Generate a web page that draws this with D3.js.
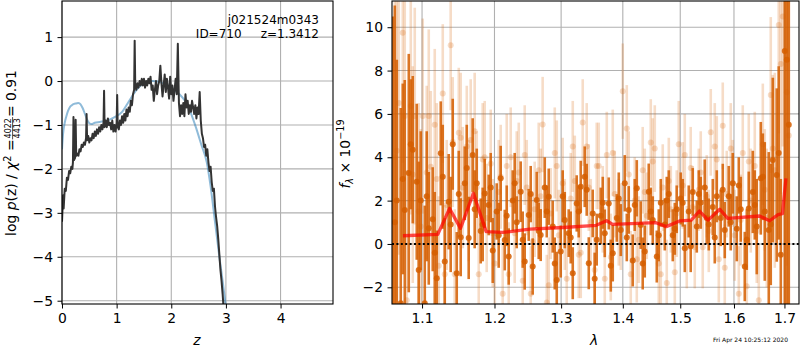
<!DOCTYPE html>
<html>
<head>
<meta charset="utf-8">
<script src="https://cdn.jsdelivr.net/npm/d3@7"></script>
<style>
  body { margin: 0; background: #fff; }
  svg { display: block; }
  text { font-family: "DejaVu Sans", sans-serif; }
</style>
</head>
<body>
<script>
// ---- left panel: log p(z) ----
var zBlack = [0.00,0.02,0.03,0.05,0.07,0.09,0.11,0.13,0.15,0.17,0.19,0.20,0.21,0.22,0.24,0.25,0.26,0.28,0.30,0.32,0.34,0.36,0.38,0.40,0.42,0.44,0.45,0.46,0.48,0.50,0.52,0.54,0.56,0.58,0.60,0.62,0.64,0.66,0.68,0.70,0.72,0.74,0.76,0.77,0.78,0.80,0.82,0.84,0.86,0.88,0.90,0.92,0.94,0.96,0.98,1.00,1.01,1.02,1.04,1.06,1.08,1.10,1.12,1.14,1.16,1.18,1.20,1.22,1.24,1.26,1.28,1.30,1.32,1.33,1.34,1.36,1.38,1.40,1.42,1.44,1.46,1.48,1.50,1.52,1.54,1.56,1.58,1.60,1.62,1.64,1.66,1.68,1.70,1.72,1.74,1.76,1.78,1.80,1.82,1.84,1.86,1.88,1.90,1.92,1.94,1.96,1.98,2.00,2.02,2.04,2.06,2.08,2.10,2.12,2.14,2.16,2.18,2.20,2.22,2.24,2.26,2.28,2.30,2.32,2.34,2.36,2.38,2.40,2.42,2.44,2.46,2.48,2.50,2.52,2.54,2.56,2.58,2.60,2.62,2.64,2.66,2.68,2.70,2.72,2.74,2.76,2.78,2.80,2.82,2.84,2.86,2.88,2.90,2.92,2.94,2.96];
var logpBlack = [-3.2,-2.6,-2.9,-2.45,-2.5,-2.2,-2.25,-2.05,-2.1,-1.95,-2.0,-1.85,-0.82,-1.8,-1.75,-0.88,-1.7,-1.65,-1.7,-1.55,-1.6,-1.45,-1.5,-1.4,-1.45,-1.3,-0.75,-1.35,-1.25,-1.4,-1.3,-1.35,-1.2,-1.3,-1.15,-1.25,-1.1,-1.2,-1.05,-1.15,-1.0,-1.1,-0.95,-0.22,-1.05,-0.9,-1.05,-0.85,-1.0,-0.95,-1.1,-0.9,-1.15,-1.0,-1.15,-0.95,-0.32,-1.05,-1.1,-0.9,-1.0,-0.8,-0.95,-0.75,-0.9,-0.65,-0.8,-0.6,-0.7,-0.45,-0.55,-0.3,-0.2,0.92,-0.05,-0.2,-0.05,-0.15,0.0,-0.1,0.05,-0.1,0.05,-0.15,0.0,-0.1,0.05,-0.05,0.1,-0.2,-0.1,-0.45,-0.2,0.0,-0.3,-0.1,0.0,0.35,-0.05,-0.35,-0.1,0.15,-0.25,0.05,-0.15,-0.4,0.1,-0.3,-0.1,-0.45,-0.2,0.05,-0.3,0.85,-0.5,-0.8,-0.55,-0.75,-0.5,-0.8,-0.3,-0.6,-0.45,-0.75,-0.55,-0.7,-0.45,-0.6,-0.75,-0.55,-0.85,-0.6,-0.75,-0.25,-0.9,-1.2,-1.3,-1.5,-1.45,-1.7,-1.55,-1.85,-2.05,-1.95,-2.3,-2.5,-2.45,-2.85,-3.1,-3.3,-3.6,-3.95,-4.3,-4.55,-4.85,-5.2];
var zBlue = [0.00,0.02,0.05,0.08,0.11,0.14,0.18,0.22,0.26,0.30,0.34,0.38,0.42,0.46,0.50,0.54,0.60,0.69,0.82,0.98,1.10,1.22,1.34,1.44,1.55,1.65,1.75,1.85,1.95,2.05,2.15,2.25,2.35,2.45,2.55,2.65,2.72,2.80,2.88,2.95,3.00];
var logpBlue = [-1.55,-1.2,-0.95,-0.8,-0.68,-0.6,-0.55,-0.52,-0.51,-0.5,-0.53,-0.62,-0.75,-0.88,-0.96,-0.98,-0.95,-0.93,-0.9,-0.81,-0.7,-0.47,-0.24,-0.1,-0.03,0.0,-0.01,-0.05,-0.11,-0.2,-0.3,-0.45,-0.7,-1.05,-1.45,-1.85,-2.4,-3.2,-4.0,-4.65,-5.15];
var zTicks = [0, 1, 2, 3, 4];
var pzTicks = [1, 0, -1, -2, -3, -4, -5];

// ---- right panel: spectrum (dark = strong points, light = faint points) ----
var darkWave = [1.0620,1.0671,1.0722,1.0774,1.0826,1.0878,1.0930,1.0983,1.1036,1.1089,1.1142,1.1196,1.1250,1.1304,1.1358,1.1413,1.1468,1.1523,1.1579,1.1634,1.1690,1.1747,1.1803,1.1860,1.1917,1.1975,1.2032,1.2090,1.2149,1.2207,1.2266,1.2325,1.2384,1.2444,1.2504,1.2564,1.2625,1.2685,1.2747,1.2808,1.2870,1.2932,1.2994,1.3057,1.3119,1.3183,1.3246,1.3310,1.3374,1.3439,1.3503,1.3568,1.3634,1.3700,1.3766,1.3832,1.3899,1.3966,1.4033,1.4100,1.4168,1.4237,1.4305,1.4374,1.4443,1.4513,1.4583,1.4653,1.4724,1.4795,1.4866,1.4937,1.5009,1.5082,1.5154,1.5227,1.5301,1.5374,1.5448,1.5523,1.5598,1.5673,1.5748,1.5824,1.5900,1.5977,1.6054,1.6131,1.6209,1.6287,1.6366,1.6444,1.6524,1.6603,1.6683,1.6764,1.6844,1.6926,1.7007,1.7089];
var darkFlux = [-3.5,2.0,-2.73,1.57,3.27,4.35,2.87,2.0,-2.73,0.72,1.14,-1.58,4.18,-0.81,1.95,4.6,-1.35,0.31,2.8,0.28,4.1,2.8,0.6,2.33,1.8,-0.3,1.5,3.03,0.18,-0.58,2.0,1.0,2.41,-0.81,1.34,-1.04,2.03,0.41,2.6,2.18,0.8,-1.66,-0.35,1.1,0.5,-1.35,1.87,2.64,3.1,-0.89,1.41,0.2,1.3,0.49,1.87,-0.43,1.2,0.64,2.8,1.57,-0.76,2.57,0.87,-0.35,2.41,1.1,-0.58,1.9,0.9,2.3,0.4,1.6,2.1,-0.2,1.5,2.4,0.8,1.9,2.6,0.9,1.7,2.2,1.2,0.64,2.2,2.8,0.7,1.6,-1.04,1.64,2.4,0.8,3.03,1.5,0.64,3.87,3.18,-0.5,8.9,5.5];
var darkErr = [14,6.5,9,6,5.5,3.4,3.6,3.2,4.5,2.6,2.4,2.2,2.4,2.0,2.2,2.1,1.9,1.8,1.7,1.9,1.7,1.6,1.5,1.6,1.4,1.5,1.3,1.5,1.4,1.3,1.4,1.2,1.4,1.3,1.2,1.3,1.3,1.2,1.4,1.3,1.2,1.3,1.2,1.3,1.1,1.2,1.3,1.2,1.4,1.2,1.1,1.2,1.3,1.1,1.2,1.3,1.1,1.2,1.3,1.1,1.2,1.3,1.1,1.2,1.3,1.1,1.2,1.1,1.2,1.1,1.2,1.1,1.2,1.1,1.2,1.1,1.2,1.2,1.3,1.2,1.3,1.2,1.3,1.3,1.4,1.4,1.5,1.5,1.6,1.7,1.9,2.2,2.6,3.2,3.6,3.8,4.0,3.5,14,14];
var darkWave2 = [1.0646,1.0748,1.0852,1.0956,1.1062,1.1169,1.1277,1.1385,1.1496,1.1607,1.1718,1.1831,1.1946,1.2061,1.2178,1.2295,1.2414,1.2534,1.2655,1.2778,1.2901,1.3025,1.3151,1.3278,1.3406,1.3535,1.3667,1.3799,1.3932,1.4067,1.4202,1.4339,1.4478,1.4618,1.4759,1.4902,1.5045,1.5190,1.5338,1.5485,1.5635,1.5786,1.5938,1.6093,1.6248,1.6405,1.6564,1.6723,1.6884,1.7048];
var darkFlux2 = [1.0,3.0,4.6,-1.2,2.2,-0.4,3.1,0.9,2.3,3.5,1.6,0.9,2.6,0.4,1.3,2.8,0.2,2.3,0.6,1.5,-0.9,2.2,0.3,1.5,2.5,-1.6,1.9,-1.0,2.1,0.3,1.8,-0.9,1.5,0.4,2.0,0.7,1.9,-0.1,2.3,1.2,0.3,2.5,1.0,2.7,0.2,1.8,3.1,0.9,4.2,8.5];
var darkErr2 = [10,4.4,3.0,5,3,2.8,2.4,2.2,2.0,2.0,1.8,1.7,1.6,1.5,1.4,1.4,1.3,1.3,1.3,1.2,1.2,1.2,1.2,1.2,1.2,1.2,1.2,1.2,1.2,1.1,1.2,1.2,1.1,1.2,1.1,1.2,1.1,1.2,1.1,1.2,1.2,1.2,1.3,1.3,1.4,1.6,2.0,2.8,4.0,14];
var lightWave = [1.0646,1.0697,1.0748,1.0800,1.0852,1.0904,1.0956,1.1009,1.1062,1.1116,1.1169,1.1223,1.1277,1.1331,1.1385,1.1440,1.1496,1.1551,1.1607,1.1662,1.1718,1.1775,1.1831,1.1888,1.1946,1.2004,1.2061,1.2119,1.2178,1.2236,1.2295,1.2355,1.2414,1.2474,1.2534,1.2594,1.2655,1.2715,1.2778,1.2839,1.2901,1.2963,1.3025,1.3088,1.3151,1.3215,1.3278,1.3342,1.3406,1.3471,1.3535,1.3601,1.3667,1.3733,1.3799,1.3865,1.3932,1.3999,1.4067,1.4134,1.4202,1.4271,1.4339,1.4409,1.4478,1.4548,1.4618,1.4688,1.4759,1.4831,1.4902,1.4973,1.5045,1.5118,1.5190,1.5264,1.5338,1.5411,1.5485,1.5560,1.5635,1.5711,1.5786,1.5862,1.5938,1.6015,1.6093,1.6170,1.6248,1.6326,1.6405,1.6484,1.6564,1.6643,1.6723,1.6804,1.6884,1.6967,1.7048];
var lightFlux = [4.0,6.5,9.75,-2.6,6.36,5.9,1.5,5.9,3.3,3.56,5.5,-1.0,6.94,1.8,9.17,-1.4,5.13,2.6,4.5,4.8,5.2,-1.4,3.9,1.2,3.7,-0.9,2.4,-2.3,3.6,4.0,0.5,3.3,-1.7,2.6,-2.3,1.6,3.4,5.51,-2.7,1.4,4.2,0.4,2.8,-1.6,2.1,2.9,-0.5,5.6,4.5,1.0,-1.2,3.6,1.6,4.1,-0.6,2.3,1.0,7.05,5.33,-1.4,2.0,0.2,3.4,1.3,4.68,4.4,-0.9,2.6,-1.8,1.6,-1.3,4.6,2.7,-0.15,3.5,-0.15,2.5,-0.15,2.2,5.15,4.5,-0.7,5.45,2.3,4.4,0.4,-2.3,4.2,-1.95,2.0,3.6,-2.6,4.6,1.2,6.87,3.4,10.1,10.5,7.0];
var lightErr = [8,7,6,6,5,5,5,4.5,4,3.5,3.5,3.2,3.2,3,3,3,3,2.8,2.8,2.8,2.7,2.6,2.6,2.5,2.5,2.4,2.4,2.4,2.4,2.3,2.3,2.3,2.2,2.2,2.2,2.2,2.2,2.2,2.2,2.1,2.1,2.1,2.1,2.1,2.1,2.1,2.0,2.0,2.0,2.0,2.0,2.0,2.0,2.0,2.0,2.0,2.0,2.2,2.0,2.0,2.0,2.0,2.0,2.0,2.0,2.0,2.0,2.0,2.0,2.0,2.0,2.0,2.0,1.9,1.9,1.9,1.9,1.9,1.9,2.0,2.0,2.0,2.0,2.0,2.1,2.1,2.2,2.2,2.3,2.4,2.5,2.6,2.8,3.2,3.6,4.5,5,6,8];
var lightWave2 = [1.0671,1.0774,1.0878,1.0983,1.1089,1.1196,1.1304,1.1413,1.1523,1.1634,1.1747,1.1860,1.1975,1.2090,1.2207,1.2325,1.2444,1.2564,1.2685,1.2808,1.2932,1.3057,1.3183,1.3310,1.3439,1.3568,1.3700,1.3832,1.3966,1.4100,1.4237,1.4374,1.4513,1.4653,1.4795,1.4937,1.5082,1.5227,1.5374,1.5523,1.5673,1.5824,1.5977,1.6131,1.6287,1.6444,1.6603,1.6764,1.6926,1.7089];
var lightFlux2 = [4.3,5.9,3.2,0.8,5.9,3.0,-1.4,4.7,4.9,2.0,2.6,4.0,0.5,3.1,-1.4,2.9,4.1,0.1,2.2,-1.9,3.6,0.9,4.5,-0.4,2.6,3.6,-1.6,4.2,0.8,3.2,-0.7,2.4,3.8,-1.4,2.9,1.4,4.1,1.7,3.3,0.6,3.9,-1.1,2.8,1.1,3.8,0.6,2.5,4.4,8.3,5.0];
var lightErr2 = [7,6,5,4.5,4,3.5,3.2,3,3,2.8,2.6,2.6,2.5,2.4,2.4,2.3,2.3,2.2,2.2,2.2,2.1,2.1,2.1,2.1,2.0,2.0,2.0,2.0,2.0,2.0,2.0,2.0,2.0,2.0,2.0,2.0,1.9,1.9,1.9,1.9,2.0,2.0,2.0,2.1,2.2,2.4,2.8,3.4,6,10];
var modelWave = [1.075,1.121,1.137,1.152,1.170,1.188,1.212,1.252,1.303,1.356,1.373,1.383,1.457,1.475,1.500,1.520,1.535,1.551,1.573,1.588,1.650,1.670,1.687,1.696,1.703];
var modelFlux = [0.38,0.44,1.64,0.72,2.34,0.57,0.53,0.68,0.76,0.86,1.07,0.9,0.98,0.8,1.07,1.1,1.52,1.1,1.6,1.18,1.29,1.07,1.35,1.4,3.03];
var lamTicks = [1.1, 1.2, 1.3, 1.4, 1.5, 1.6, 1.7];
var fluxTicks = [-2, 0, 2, 4, 6, 8, 10];

var W = 800, H = 350;
var FS = "13.9px";
var GRISM = "#d55e00";

var svg = d3.select("body").append("svg").attr("width", W).attr("height", H);
svg.append("rect").attr("width", W).attr("height", H).attr("fill", "#fff");

function styleAxis(g){
   g.attr("font-size", FS).attr("font-family", "DejaVu Sans");
   g.select(".domain").remove();
   g.selectAll(".tick line").attr("stroke", "#000").attr("stroke-width", 1);
   g.selectAll(".tick text").attr("fill", "#000");
}

// ================= LEFT PANEL =================
var L = {x: 62, y: 1, w: 271, h: 303};
var xz = d3.scaleLinear().domain([0, 4.96]).range([0, L.w]);
var yp = d3.scaleLinear().domain([-5.075, 1.822]).range([L.h, 0]);
var left = svg.append("g").attr("transform", "translate(" + L.x + "," + L.y + ")");

left.append("clipPath").attr("id", "clipL").append("rect").attr("width", L.w).attr("height", L.h);

//grid
left.selectAll("line.gx").data(zTicks).enter().append("line")
   .attr("x1", d => xz(d)).attr("x2", d => xz(d)).attr("y1", 0).attr("y2", L.h)
   .attr("stroke", "#b0b0b0").attr("stroke-width", 1.1);
left.selectAll("line.gy").data(pzTicks).enter().append("line")
   .attr("x1", 0).attr("x2", L.w).attr("y1", d => yp(d)).attr("y2", d => yp(d))
   .attr("stroke", "#b0b0b0").attr("stroke-width", 1.1);

var plotL = left.append("g").attr("clip-path", "url(#clipL)");
var lineZ = d3.line().x(d => xz(d[0])).y(d => yp(d[1]));
plotL.append("path")
   .attr("d", lineZ.curve(d3.curveMonotoneX)(zBlue.map((z, i) => [z, logpBlue[i]])))
   .attr("fill", "none").attr("stroke", "#1f77b4").attr("stroke-opacity", 0.5).attr("stroke-width", 2);
plotL.append("path")
   .attr("d", lineZ.curve(d3.curveLinear)(zBlack.map((z, i) => [z, logpBlack[i]])))
   .attr("fill", "none").attr("stroke", "#333").attr("stroke-width", 2).attr("stroke-linejoin", "round");

left.append("rect").attr("width", L.w).attr("height", L.h)
   .attr("fill", "none").attr("stroke", "#000").attr("stroke-width", 1.1);

left.append("g").attr("transform", "translate(0," + L.h + ")")
   .call(d3.axisBottom(xz).tickValues(zTicks).tickSize(4.5).tickPadding(4.5).tickFormat(d3.format("d")))
   .call(styleAxis);
left.append("g")
   .call(d3.axisLeft(yp).tickValues(pzTicks).tickSize(4.5).tickPadding(4.5).tickFormat(d3.format("d")))
   .call(styleAxis);

left.append("text").attr("x", 257).attr("y", 23).attr("text-anchor", "end")
   .attr("font-size", "12px").text("j021524m0343");
left.append("text").attr("x", 257).attr("y", 37.3).attr("text-anchor", "end")
   .attr("font-size", "12px").style("white-space", "pre").text("ID=710     z=1.3412");

// x label
svg.append("text").attr("x", 197).attr("y", 345).attr("text-anchor", "middle")
   .attr("font-size", FS).attr("font-style", "italic").text("z");

// y label (rotated, with fraction)
var yl = svg.append("g").attr("transform", "translate(16,153) rotate(-90)");
var t1 = yl.append("text").attr("font-size", FS);
t1.append("tspan").text("log ");
t1.append("tspan").attr("font-style", "italic").text("p");
t1.append("tspan").text("(z) / ");
t1.append("tspan").attr("font-style", "italic").text("χ");
t1.append("tspan").attr("font-size", "9.7px").attr("dy", -5).text("2");
t1.append("tspan").attr("dy", 5).text(" = ");
var num = yl.append("text").attr("font-size", "8px").attr("text-anchor", "middle").text("4022");
var den = yl.append("text").attr("font-size", "8px").attr("text-anchor", "middle").text("4413");
var t3 = yl.append("text").attr("font-size", FS).text(" = 0.91");
var w1 = t1.node().getComputedTextLength();
var wf = Math.max(num.node().getComputedTextLength(), den.node().getComputedTextLength()) + 2;
var w3 = t3.node().getComputedTextLength();
var x0 = -(w1 + wf + w3) / 2;
t1.attr("x", x0);
num.attr("x", x0 + w1 + wf / 2).attr("y", -5);
den.attr("x", x0 + w1 + wf / 2).attr("y", 4);
yl.append("line").attr("x1", x0 + w1).attr("x2", x0 + w1 + wf).attr("y1", -3.4).attr("y2", -3.4)
   .attr("stroke", "#000").attr("stroke-width", 0.7);
t3.attr("x", x0 + w1 + wf);

// ================= RIGHT PANEL =================
var R = {x: 392, y: 1, w: 407, h: 303};
var xl = d3.scaleLog().domain([1.061, 1.73]).range([0, R.w]);
var yf = d3.scaleLinear().domain([-2.77, 11.21]).range([R.h, 0]);
var right = svg.append("g").attr("transform", "translate(" + R.x + "," + R.y + ")");
right.append("clipPath").attr("id", "clipR").append("rect").attr("width", R.w).attr("height", R.h);

right.selectAll("line.gx").data(lamTicks).enter().append("line")
   .attr("x1", d => xl(d)).attr("x2", d => xl(d)).attr("y1", 0).attr("y2", R.h)
   .attr("stroke", "#b0b0b0").attr("stroke-width", 1.1);
right.selectAll("line.gy").data(fluxTicks).enter().append("line")
   .attr("x1", 0).attr("x2", R.w).attr("y1", d => yf(d)).attr("y2", d => yf(d))
   .attr("stroke", "#b0b0b0").attr("stroke-width", 1.1);

var plotR = right.append("g").attr("clip-path", "url(#clipR)");

function drawErrors(wave, flux, err, alpha){
   var data = wave.map((w, i) => ({w: w, f: flux[i], e: err[i]}));
   var g = plotR.append("g");
   g.selectAll("line").data(data).enter().append("line")
      .attr("x1", d => xl(d.w)).attr("x2", d => xl(d.w))
      .attr("y1", d => yf(d.f - d.e)).attr("y2", d => yf(d.f + d.e))
      .attr("stroke", GRISM).attr("stroke-opacity", alpha).attr("stroke-width", 2.6);
   g.selectAll("circle").data(data).enter().append("circle")
      .attr("cx", d => xl(d.w)).attr("cy", d => yf(d.f)).attr("r", 3)
      .attr("fill", GRISM).attr("fill-opacity", alpha);
}
drawErrors(lightWave, lightFlux, lightErr, 0.22);
drawErrors(lightWave2, lightFlux2, lightErr2, 0.22);
drawErrors(darkWave, darkFlux, darkErr, 0.85);
drawErrors(darkWave2, darkFlux2, darkErr2, 0.85);

plotR.append("path")
   .attr("d", d3.line().x(d => xl(d[0])).y(d => yf(d[1]))(modelWave.map((w, i) => [w, modelFlux[i]])))
   .attr("fill", "none").attr("stroke", "red").attr("stroke-opacity", 0.7)
   .attr("stroke-width", 3.3).attr("stroke-linejoin", "round");

plotR.append("line").attr("x1", 0).attr("x2", R.w).attr("y1", yf(0)).attr("y2", yf(0))
   .attr("stroke", "#000").attr("stroke-width", 2).attr("stroke-dasharray", "2,2.4");

right.append("rect").attr("width", R.w).attr("height", R.h)
   .attr("fill", "none").attr("stroke", "#000").attr("stroke-width", 1.1);

right.append("g").attr("transform", "translate(0," + R.h + ")")
   .call(d3.axisBottom(xl).tickValues(lamTicks).tickSize(4.5).tickPadding(4.5).tickFormat(d3.format(".1f")))
   .call(styleAxis);
right.append("g")
   .call(d3.axisLeft(yf).tickValues(fluxTicks).tickSize(4.5).tickPadding(4.5).tickFormat(d3.format("d")))
   .call(styleAxis);

svg.append("text").attr("x", 594).attr("y", 345).attr("text-anchor", "middle")
   .attr("font-size", FS).attr("font-style", "italic").text("λ");

var yr = svg.append("text").attr("transform", "translate(350,154) rotate(-90)")
   .attr("text-anchor", "middle").attr("font-size", FS);
yr.append("tspan").attr("font-style", "italic").text("f");
yr.append("tspan").attr("font-style", "italic").attr("font-size", "9.7px").attr("dy", 3).text("λ");
yr.append("tspan").attr("dy", -3).text(" × 10");
yr.append("tspan").attr("font-size", "9.7px").attr("dy", -6).text("−19");

svg.append("text").attr("x", 788).attr("y", 342).attr("text-anchor", "end")
   .attr("font-size", "6px").text("Fri Apr 24 10:25:12 2020");
</script>
</body>
</html>
